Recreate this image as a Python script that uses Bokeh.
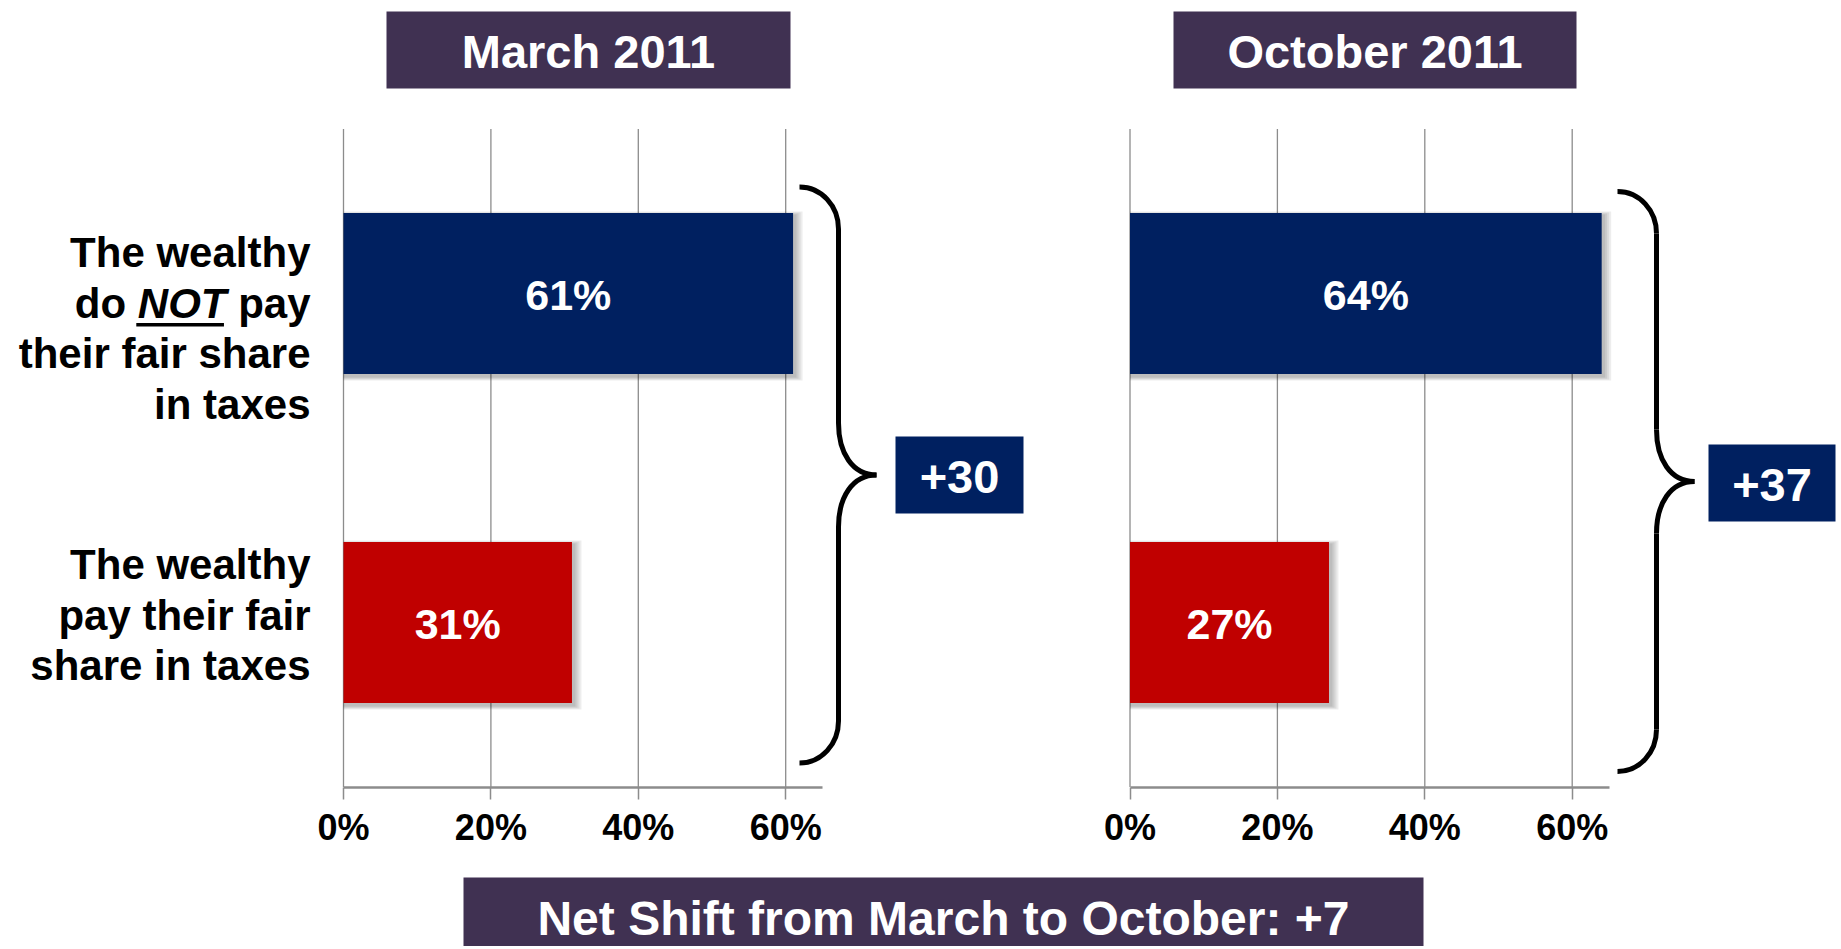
from bokeh.plotting import figure
from bokeh.models import Range1d, LinearAxis, FixedTicker
from bokeh.core.properties import value
from bokeh.embed import file_html
from bokeh.resources import INLINE

# ---------------- data ----------------
categories = ["The wealthy do NOT pay their fair share in taxes",
              "The wealthy pay their fair share in taxes"]
label_lines = [["The wealthy", "do NOT pay", "their fair share", "in taxes"],
               ["The wealthy", "pay their fair", "share in taxes"]]
periods = ["March 2011", "October 2011"]
march_values = [61, 31]
october_values = [64, 27]
ticks = [0, 20, 40, 60]
tick_labels = ["0%", "20%", "40%", "60%"]
bar_colors = ["#002060", "#C00000"]
AXIS_MAX = 65

# ---------------- layout constants ----------------
FONT = value("Liberation Sans")
W, H = 1841, 946
PX_X = 7.37          # px per percentage point
PX_Y = 329.0         # px per category step
ORIGIN_Y = 622.0     # canvas y of the bottom category centre
ORIGINS = [343.0, 1129.5]   # canvas x of 0% for each panel
RANGE_NAMES = ["default", "oct"]
PURPLE = "#403152"
NAVY = "#002060"
GRID = "#8c8c8c"

series = [march_values, october_values]
n = len(categories)
ypos = [n - 1 - i for i in range(n)]


def xcan(cx, i):
    return (cx - ORIGINS[i]) / PX_X


def ycan(cy):
    return (ORIGIN_Y - cy) / PX_Y


p = figure(width=W, height=H, output_backend="svg", toolbar_location=None,
           x_range=Range1d(-ORIGINS[0] / PX_X, (W - ORIGINS[0]) / PX_X),
           y_range=Range1d((ORIGIN_Y - H) / PX_Y, ORIGIN_Y / PX_Y),
           x_axis_location=None, y_axis_location=None, min_border=0,
           outline_line_color=None, background_fill_color="white",
           border_fill_color="white")
p.extra_x_ranges = {"oct": Range1d(-ORIGINS[1] / PX_X, (W - ORIGINS[1]) / PX_X)}
p.xgrid.visible = False
p.ygrid.visible = False


def box_label(x, y, w, h, text, rn, size, off, fill):
    p.rect(x=[x], y=[y], width=w, height=h, width_units="screen", height_units="screen",
           fill_color=fill, line_color=None, x_range_name=rn)
    p.text(x=[x], y=[y], text=[text], x_range_name=rn, y_offset=off,
           text_font=FONT, text_font_style="bold", text_font_size=size,
           text_color="white", text_align="center", text_baseline="middle")


# decoration geometry (canvas px) per panel
title_cx = [588.0, 1374.5]
title_w = [404, 403]
brace_end_x = [799.0, 1617.0]
brace_cy = [474.5, 481.0]
brace_hh = [288.0, 290.0]
diff_box_c = [(959.0, 474.5), (1771.5, 482.5)]
diff_box_w = [128, 127]

for i, (rn, vals) in enumerate(zip(RANGE_NAMES, series)):
    # vertical grid lines
    p.segment(x0=ticks, y0=[-0.5] * len(ticks), x1=ticks, y1=[n - 0.5] * len(ticks),
              line_color=GRID, line_width=1.3, x_range_name=rn)
    # axis
    ax = LinearAxis(x_range_name=rn, fixed_location=-0.5, bounds=(0, AXIS_MAX),
                    ticker=FixedTicker(ticks=ticks),
                    major_label_overrides={t: l for t, l in zip(ticks, tick_labels)})
    ax.axis_line_color = GRID
    ax.axis_line_width = 2.5
    ax.major_tick_line_color = GRID
    ax.major_tick_line_width = 1.5
    ax.major_tick_out = 12
    ax.major_tick_in = 0
    ax.minor_tick_out = 0
    ax.minor_tick_in = 0
    ax.major_label_text_font = "Liberation Sans"
    ax.major_label_text_font_style = "bold"
    ax.major_label_text_font_size = "36px"
    ax.major_label_text_color = "black"
    ax.major_label_standoff = 8
    p.add_layout(ax, "below")

    # soft shadow
    for k in range(1, 5):
        p.hbar(y=[y - 2.5 / PX_Y for y in ypos], left=0,
               right=[v + (1.5 + 2 * k) / PX_X for v in vals],
               height=0.49 + (2 * k) / PX_Y, fill_color="black", fill_alpha=0.07,
               line_color=None, x_range_name=rn)
    # bars
    p.hbar(y=ypos, left=0, right=vals, height=0.49, fill_color=bar_colors,
           line_color=None, x_range_name=rn)
    # value labels
    p.text(x=[v / 2 for v in vals], y=ypos, text=[f"{v}%" for v in vals],
           x_range_name=rn, y_offset=1.5, text_font=FONT, text_font_style="bold",
           text_font_size="43px", text_color="white", text_align="center",
           text_baseline="middle")

    # title box
    box_label(xcan(title_cx[i], i), ycan(49.5), title_w[i], 77, periods[i], rn,
              "47px", 1.3, PURPLE)

    # brace (curly bracket) made of bezier pieces
    xe = brace_end_x[i]
    xv = xe + 39
    xt = xe + 77
    yc = brace_cy[i]
    hh = brace_hh[i]
    pieces = [
        ((xe, yc - hh), (xv, yc - hh + 42), (xe + 22, yc - hh), (xv, yc - hh + 19)),
        ((xv, yc - hh + 42), (xv, yc - 52), (xv, yc - hh + 42), (xv, yc - 52)),
        ((xv, yc - 52), (xt, yc), (xv, yc - 22), (xv + 14, yc)),
        ((xt, yc), (xv, yc + 52), (xv + 14, yc), (xv, yc + 22)),
        ((xv, yc + 52), (xv, yc + hh - 42), (xv, yc + 52), (xv, yc + hh - 42)),
        ((xv, yc + hh - 42), (xe, yc + hh), (xv, yc + hh - 19), (xe + 22, yc + hh)),
    ]
    p.bezier(x0=[xcan(a[0], i) for a, b, c, d in pieces],
             y0=[ycan(a[1]) for a, b, c, d in pieces],
             x1=[xcan(b[0], i) for a, b, c, d in pieces],
             y1=[ycan(b[1]) for a, b, c, d in pieces],
             cx0=[xcan(c[0], i) for a, b, c, d in pieces],
             cy0=[ycan(c[1]) for a, b, c, d in pieces],
             cx1=[xcan(d[0], i) for a, b, c, d in pieces],
             cy1=[ycan(d[1]) for a, b, c, d in pieces],
             line_color="black", line_width=5, x_range_name=rn)

    # difference box
    diff = vals[0] - vals[1]
    bx, by = diff_box_c[i]
    box_label(xcan(bx, i), ycan(by), diff_box_w[i], 77, f"+{diff}", rn, "47px", 2.0, NAVY)

# ---------------- category labels (left panel) ----------------
BOLD_W = {" ": 278, "p": 611, "a": 556, "y": 556, "d": 611, "o": 611,
          "N": 722, "O": 778, "T": 611}
LABEL_PX = 42
LABEL_X_OFF = -33
LINE_H = 50.7
first_center = [-41, -58]   # caps centre of first line relative to bar centre


def text_w(s):
    return sum(BOLD_W[c] for c in s) * LABEL_PX / 1000.0


def label_text(ci, txt, xoff, yoff, style="bold"):
    p.text(x=[0], y=[ypos[ci]], text=[txt], x_offset=xoff, y_offset=yoff,
           text_font=FONT, text_font_style=style, text_font_size=f"{LABEL_PX}px",
           text_color="black", text_align="right", text_baseline="middle")


for ci, lines in enumerate(label_lines):
    for j, line in enumerate(lines):
        yoff = first_center[ci] + LINE_H * j
        if "NOT" in line:
            pre, post = line.split("NOT")
            right = LABEL_X_OFF
            label_text(ci, post.strip(), right, yoff)
            right -= text_w(post)
            label_text(ci, "NOT", right, yoff, "bold italic")
            wn = text_w("NOT")
            p.rect(x=[(right - wn / 2 - 2.0) / PX_X],
                   y=[ypos[ci] - (yoff + 0.358 * LABEL_PX + 6.5) / PX_Y],
                   width=wn - 1, height=3.5, width_units="screen", height_units="screen",
                   fill_color="black", line_color=None)
            right -= wn + text_w(" ")
            label_text(ci, pre.strip(), right, yoff)
        else:
            label_text(ci, line, LABEL_X_OFF, yoff)

# ---------------- net shift box ----------------
d_mar = march_values[0] - march_values[1]
d_oct = october_values[0] - october_values[1]
net = d_oct - d_mar
box_label(xcan(943.0, 0), ycan(927.0), 960, 100,
          f"Net Shift from March to October: {'+' if net >= 0 else ''}{net}",
          "default", "48px", -9.0, PURPLE)

open("out.html", "w").write(file_html(p, INLINE))
